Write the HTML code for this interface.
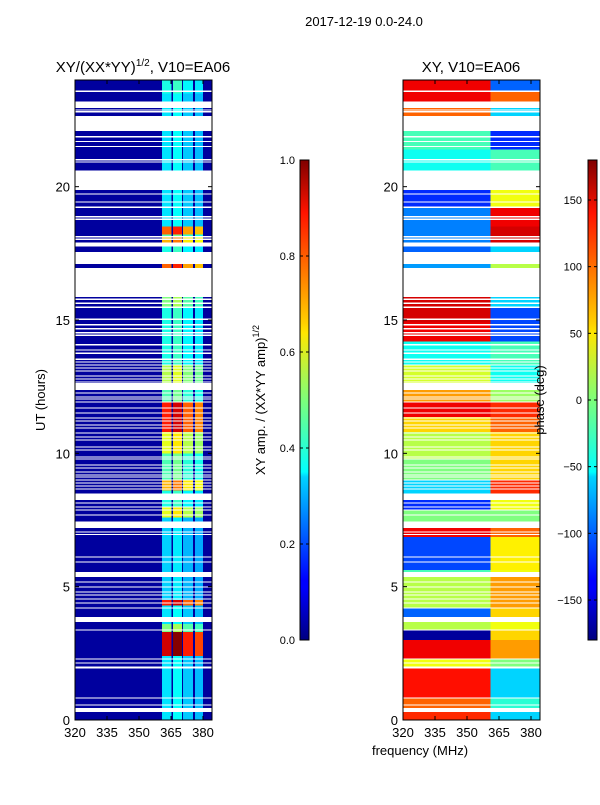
<!DOCTYPE html>
<html><head><meta charset="utf-8">
<style>
body{margin:0;background:#fff;}
svg text{font-family:"Liberation Sans",sans-serif;fill:#000;}
</style></head>
<body>
<svg id="fig" width="600" height="800" xmlns="http://www.w3.org/2000/svg">
<defs>
<linearGradient id="jetG" x1="0" y1="1" x2="0" y2="0">
<stop offset="0" stop-color="#000080"/><stop offset="0.11" stop-color="#0000ff"/>
<stop offset="0.125" stop-color="#0000ff"/><stop offset="0.34" stop-color="#00d4ff"/>
<stop offset="0.35" stop-color="#0ff"/><stop offset="0.5" stop-color="#7dff7a"/>
<stop offset="0.64" stop-color="#ffe600"/><stop offset="0.66" stop-color="#ffd000"/>
<stop offset="0.89" stop-color="#ff1300"/><stop offset="1" stop-color="#800000"/>
</linearGradient>
</defs>
<text x="364" y="26" font-size="13" text-anchor="middle">2017-12-19 0.0-24.0</text>
<text x="143" y="72" font-size="15" text-anchor="middle">XY/(XX*YY)<tspan dy="-6" font-size="10">1/2</tspan><tspan dy="6">, V10=EA06</tspan></text>
<text x="471" y="72" font-size="15" text-anchor="middle">XY, V10=EA06</text>
<text transform="translate(45,400) rotate(-90)" font-size="13" text-anchor="middle">UT (hours)</text>
<text x="420" y="755" font-size="13" text-anchor="middle">frequency (MHz)</text>
<g id="left" shape-rendering="crispEdges"></g>
<g id="right" shape-rendering="crispEdges"></g>
<g id="axes"></g>
<rect x="300" y="160" width="9" height="480" fill="url(#jetG)" stroke="#000" stroke-width="1"/>
<rect x="588" y="160" width="9" height="480" fill="url(#jetG)" stroke="#000" stroke-width="1"/>
<text transform="translate(265,400) rotate(-90)" font-size="13" text-anchor="middle">XY amp. / (XX*YY amp)<tspan dy="-6" font-size="9">1/2</tspan></text>
<text transform="translate(544,400) rotate(-90)" font-size="13" text-anchor="middle">phase (deg)</text>
<g id="cbars"></g>
</svg>
<script>
const hourTicks=[0,5,10,15,20];
const freqTicks=[320,335,350,365,380];
const ampTicks=[0.0,0.2,0.4,0.6,0.8,1.0];
const phaseTicks=[150,100,50,0,-50,-100,-150];
const channelEdges=[[360.8,365.3],[365.9,370.2],[370.6,375.3],[376.2,380.0]];
const channelGain=[1.0,1.08,0.92,0.88];
const ampSegs=[[0,2.4,0.35],[2.4,3.3,0.92],[3.3,3.6,0.5],[3.6,4.3,0.35],[4.3,4.5,0.85],[4.5,7.6,0.33],[7.6,8.0,0.6],[8.0,8.6,0.4],[8.6,9.0,0.7],[9.0,10.0,0.45],[10.0,10.8,0.6],[10.8,11.95,0.85],[11.95,12.4,0.45],[12.4,13.3,0.55],[13.3,15.5,0.4],[15.5,15.86,0.5],[16.95,17.1,0.78],[17.1,17.9,0.4],[17.9,18.1,0.7],[18.1,18.2,0.45],[18.2,18.5,0.78],[18.5,23.5,0.35],[23.5,24,0.4]];
const phaseSegs=[[0,0.3,120,-60],[0.3,0.82,100,-30],[0.82,1.95,130,-60],[1.95,2.3,40,0],[2.3,3.0,140,80],[3.0,3.36,-170,60],[3.36,3.86,20,40],[3.86,4.2,-100,60],[4.2,5.36,20,80],[5.36,5.62,-20,40],[5.62,6.86,-110,50],[6.86,7.2,140,100],[7.2,7.9,0,0],[7.9,8.25,-120,40],[8.25,9.0,-60,120],[9.0,9.8,0,60],[9.8,10.8,20,60],[10.8,11.36,60,100],[11.36,11.9,140,120],[11.9,12.4,80,10],[12.4,13.3,30,-40],[13.3,14.2,-40,-20],[14.2,14.9,140,-110],[14.9,15.5,150,-110],[15.5,15.86,150,-60],[16.95,17.1,-80,20],[17.1,17.75,-100,-60],[17.75,18.5,-90,150],[18.5,19.2,-90,140],[19.2,19.87,-120,40],[19.87,20.6,0,0],[20.6,21.4,-40,-20],[21.4,22.08,-20,-120],[22.08,22.65,0,0],[22.65,22.95,100,-60],[22.95,23.6,140,100],[23.6,24,140,-100]];
const gaps=[[23.55,23.6],[22.95,23.2],[22.85,22.9],[22.78,22.83],[22.08,22.65],[21.85,21.9],[21.67,21.72],[21.48,21.53],[20.98,21.03],[20.9,20.95],[19.87,20.6],[19.7,19.75],[19.4,19.45],[19.2,19.25],[18.85,18.9],[18.75,18.8],[18.1,18.15],[18.0,18.05],[17.75,17.9],[17.1,17.55],[15.86,16.95],[15.75,15.8],[15.6,15.65],[15.45,15.5],[15.0,15.05],[14.8,14.85],[14.65,14.7],[14.5,14.55],[14.4,14.45],[14.05,14.1],[13.85,13.9],[13.73,13.78],[13.5,13.55],[13.4,13.45],[13.29,13.33],[13.18,13.22],[13.07,13.11],[12.88,12.92],[12.77,12.81],[12.65,12.69],[12.37,12.64],[12.24,12.28],[12.09,12.13],[12.02,12.06],[11.9,11.94],[11.68,11.72],[11.49,11.53],[11.3,11.34],[11.19,11.23],[11.04,11.08],[10.93,10.97],[10.74,10.78],[10.59,10.63],[10.48,10.52],[10.22,10.26],[10.1,10.14],[9.84,9.88],[9.77,9.81],[9.54,9.58],[9.43,9.47],[9.28,9.32],[9.17,9.21],[9.09,9.13],[8.98,9.02],[8.87,8.91],[8.76,8.8],[8.64,8.68],[8.25,8.5],[8.12,8.16],[7.97,8.01],[7.85,7.89],[7.67,7.71],[7.2,7.45],[7.03,7.07],[6.93,6.97],[6.09,6.13],[5.9,5.94],[5.36,5.55],[5.15,5.19],[4.97,5.01],[4.78,4.82],[4.67,4.71],[4.52,4.56],[4.37,4.41],[4.18,4.22],[3.68,3.86],[3.36,3.4],[2.27,2.31],[2.12,2.16],[1.97,2.01],[1.93,1.96],[0.8,0.84],[0.54,0.58],[0.3,0.45]];

const NS="http://www.w3.org/2000/svg";
const Y0=720,PXH=640/24;
function yOf(h){return Y0-h*PXH;}
function xL(f){return 75+(f-320)*32/15;}
function xR(f){return 403+(f-320)*32/15;}
function clip(v){return Math.max(0,Math.min(1,v));}
function jet(v){v=clip(v);const r=clip(1.5-Math.abs(4*v-3)),g=clip(1.5-Math.abs(4*v-2)),b=clip(1.5-Math.abs(4*v-1));return `rgb(${Math.round(r*255)},${Math.round(g*255)},${Math.round(b*255)})`;}
function phaseVal(p){return (p+180)/360;}
function mk(parent,tag,attrs){const e=document.createElementNS(NS,tag);for(const k in attrs)e.setAttribute(k,attrs[k]);parent.appendChild(e);return e;}
const L=document.getElementById('left'),R=document.getElementById('right'),A=document.getElementById('axes'),C=document.getElementById('cbars');

let bg=mk(L,'rect',{x:75,y:80,width:137,height:640,fill:jet(0.03)});


ampSegs.forEach(s=>{channelEdges.forEach((c,i)=>{
  const e=mk(L,'rect',{x:xL(c[0]),y:yOf(s[1]),width:xL(c[1])-xL(c[0]),height:yOf(s[0])-yOf(s[1]),fill:jet(s[2]*channelGain[i])});
  
  
});});
phaseSegs.forEach(s=>{
  const a=mk(R,'rect',{x:xR(320),y:yOf(s[1]),width:xR(361)-xR(320),height:yOf(s[0])-yOf(s[1]),fill:jet(phaseVal(s[2]))});
  
  
  const b=mk(R,'rect',{x:xR(361),y:yOf(s[1]),width:xR(384.2)-xR(361),height:yOf(s[0])-yOf(s[1]),fill:jet(phaseVal(s[3]))});
  
  
});
gaps.forEach(g=>{[75,403].forEach(x0=>{
  const e=mk(x0===75?L:R,'rect',{x:x0,y:yOf(g[1]),width:137,height:Math.max(1,yOf(g[0])-yOf(g[1])),fill:'#fff'});
  
  
});});

[75,403].forEach((x0,pi)=>{
  const fr=mk(A,'rect',{x:x0,y:80,width:137,height:640,fill:'none',stroke:'#000','stroke-width':1});
  
  
  hourTicks.forEach(h=>{
    const y=yOf(h);
    mk(A,'line',{x1:x0,x2:x0+4,y1:y,y2:y,stroke:'#000'});
    mk(A,'line',{x1:x0+137,x2:x0+133,y1:y,y2:y,stroke:'#000'});
    const t=mk(A,'text',{x:x0-5,y:y+5,'font-size':13,'text-anchor':'end'});t.textContent=h;
    
    
  });
  freqTicks.forEach(f=>{
    const x=pi?xR(f):xL(f);
    mk(A,'line',{x1:x,x2:x,y1:720,y2:716,stroke:'#000'});
    mk(A,'line',{x1:x,x2:x,y1:80,y2:84,stroke:'#000'});
    const t=mk(A,'text',{x:x,y:737,'font-size':13,'text-anchor':'middle'});t.textContent=f;
    
    
  });
});
ampTicks.forEach(v=>{
  const y=640-v*480;
  mk(C,'line',{x1:300,x2:303,y1:y,y2:y,stroke:'#000'});mk(C,'line',{x1:309,x2:306,y1:y,y2:y,stroke:'#000'});
  const t=mk(C,'text',{x:295,y:y+4,'font-size':11,'text-anchor':'end'});t.textContent=v.toFixed(1);
  
  
});
phaseTicks.forEach(v=>{
  const y=640-(v+180)/360*480;
  mk(C,'line',{x1:588,x2:591,y1:y,y2:y,stroke:'#000'});mk(C,'line',{x1:597,x2:594,y1:y,y2:y,stroke:'#000'});
  const t=mk(C,'text',{x:582,y:y+4,'font-size':11,'text-anchor':'end'});t.textContent=v<0?'\u2212'+(-v):v;
  
  
});
</script>
</body></html>
